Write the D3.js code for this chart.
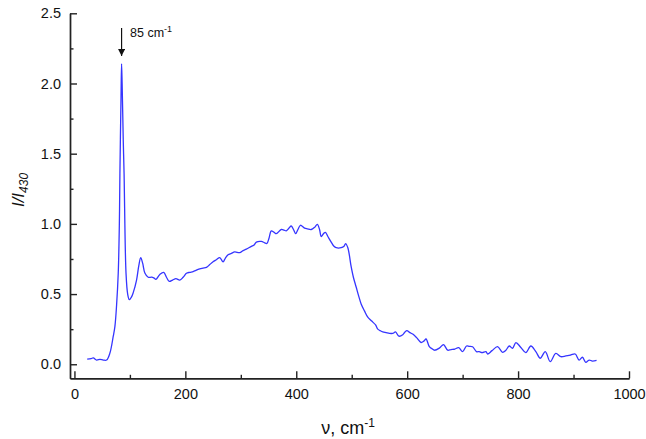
<!DOCTYPE html>
<html>
<head>
<meta charset="UTF-8">
<script src="https://d3js.org/d3.v7.min.js"></script>
<style>
  body { margin: 0; background: #fff; }
  svg { display: block; font-family: "Liberation Sans", Arial, sans-serif; }
  .axis path, .axis line { stroke: #222; stroke-width: 1.4; }
  .axis text { font-size: 14.5px; fill: #111; }
</style>
</head>
<body>
<svg></svg>
<script>
// wavenumber (cm-1) and relative intensity I/I430
let nu = [23, 30, 34, 40, 46, 52, 58, 64, 70, 73, 76, 79, 81, 82, 84, 85, 86, 88, 89.5, 93,
  96, 99, 103, 106, 112, 116, 119.5, 123, 127, 133, 139, 143, 147, 154, 161, 166, 171, 177, 183, 190,
  196, 202, 208, 214, 220, 226, 232, 238, 244, 250, 256, 262, 268, 272, 277, 283, 289, 298, 304, 310,
  319, 324, 328, 337, 343, 347, 351, 355, 360, 364, 373, 378, 382, 387, 391, 395, 399, 403, 407.5, 415,
  420, 427, 433, 438, 442, 445, 449, 452.5, 457, 463, 468, 472, 481, 486, 489, 493, 499, 503, 508, 513,
  517, 523, 529, 534, 538, 543, 547, 551, 556, 562, 568, 574, 579, 585, 592, 596, 599.5, 605, 610, 617,
  625, 630, 634, 640, 645, 649, 658, 665.5, 673, 679, 685, 693, 700, 707, 712, 718, 725, 730, 735, 742,
  745, 753, 763, 772, 778, 784, 790, 796, 805, 814, 823, 832, 840, 849, 858, 868, 877, 886, 895, 903,
  910, 916, 922, 928, 934, 941.5];
let intensity = [0.036, 0.04, 0.045, 0.03, 0.035, 0.03, 0.03, 0.08, 0.20, 0.27, 0.42, 0.65, 1.0, 1.36, 1.9, 2.14, 2.0, 1.6, 1.36, 0.65,
  0.50, 0.46, 0.48, 0.51, 0.60, 0.70, 0.76, 0.72, 0.65, 0.62, 0.62, 0.615, 0.605, 0.64, 0.655, 0.62, 0.59, 0.60, 0.61, 0.60,
  0.62, 0.648, 0.655, 0.66, 0.67, 0.68, 0.685, 0.69, 0.71, 0.73, 0.745, 0.76, 0.73, 0.755, 0.78, 0.79, 0.80, 0.795, 0.81, 0.82,
  0.84, 0.85, 0.87, 0.875, 0.865, 0.86, 0.90, 0.95, 0.94, 0.93, 0.96, 0.955, 0.95, 0.97, 0.985, 0.96, 0.93, 0.96, 0.99, 0.97,
  0.965, 0.96, 0.975, 0.997, 0.96, 0.91, 0.93, 0.94, 0.91, 0.87, 0.84, 0.83, 0.83, 0.84, 0.86, 0.83, 0.695, 0.62, 0.55, 0.48,
  0.43, 0.38, 0.335, 0.315, 0.30, 0.28, 0.25, 0.24, 0.23, 0.225, 0.22, 0.22, 0.23, 0.20, 0.21, 0.23, 0.24, 0.225, 0.215, 0.19,
  0.155, 0.165, 0.18, 0.125, 0.11, 0.10, 0.115, 0.14, 0.10, 0.105, 0.107, 0.118, 0.09, 0.13, 0.128, 0.125, 0.09, 0.09, 0.083, 0.09,
  0.073, 0.097, 0.125, 0.085, 0.10, 0.13, 0.114, 0.154, 0.12, 0.083, 0.13, 0.09, 0.043, 0.09, 0.019, 0.078, 0.054, 0.059, 0.066, 0.073,
  0.03, 0.05, 0.014, 0.03, 0.023, 0.028];

let xMajor = [0, 200, 400, 600, 800, 1000];
let xMinor = [100, 300, 500, 700, 900];
let yMajor = [0.0, 0.5, 1.0, 1.5, 2.0, 2.5];
let yMinor = [0.25, 0.75, 1.25, 1.75, 2.25];
let peakNu = 85;

let width = 646, height = 439;
let svg = d3.select("svg").attr("width", width).attr("height", height);

let x = d3.scaleLinear().domain([-8, 1000]).range([70, 629]);
let y = d3.scaleLinear().domain([-0.1, 2.5]).range([378.3, 13.3]);

// minor ticks first
svg.append("g").attr("class", "axis")
  .attr("transform", "translate(0," + y(-0.1) + ")")
  .call(d3.axisBottom(x).tickValues(xMinor).tickSize(-3.5).tickSizeOuter(0).tickFormat(""));
svg.append("g").attr("class", "axis")
  .attr("transform", "translate(" + x(-8) + ",0)")
  .call(d3.axisLeft(y).tickValues(yMinor).tickSize(-3.5).tickSizeOuter(0).tickFormat(""));

// major ticks
svg.append("g").attr("class", "axis")
  .attr("transform", "translate(0," + y(-0.1) + ")")
  .call(d3.axisBottom(x).tickValues(xMajor).tickSize(-7).tickSizeOuter(0).tickPadding(10).tickFormat(d3.format("d")));
svg.append("g").attr("class", "axis")
  .attr("transform", "translate(" + x(-8) + ",0)")
  .call(d3.axisLeft(y).tickValues(yMajor).tickSize(-7).tickSizeOuter(0).tickPadding(9).tickFormat(d3.format(".1f")));

// spectrum
let pts = nu.map((v, i) => [v, intensity[i]]);
svg.append("path")
  .datum(pts)
  .attr("fill", "none")
  .attr("stroke", "#3535ff")
  .attr("stroke-width", 1.3)
  .attr("d", d3.line().x(d => x(d[0])).y(d => y(d[1])).curve(d3.curveCatmullRom));

// arrow annotation
svg.append("defs").append("marker")
  .attr("id", "arr").attr("viewBox", "0 0 10 10").attr("refX", 10).attr("refY", 5)
  .attr("markerWidth", 7).attr("markerHeight", 7).attr("markerUnits", "userSpaceOnUse")
  .attr("orient", "auto")
  .append("path").attr("d", "M0,0 L10,5 L0,10 z").attr("fill", "#111");
svg.append("line")
  .attr("x1", x(peakNu)).attr("x2", x(peakNu))
  .attr("y1", 28).attr("y2", 56)
  .attr("stroke", "#111").attr("stroke-width", 1.2)
  .attr("marker-end", "url(#arr)");
let ann = svg.append("text").attr("x", 130).attr("y", 37).attr("font-size", 12.5).attr("fill", "#111");
ann.append("tspan").text("85 cm");
ann.append("tspan").attr("dy", -5).attr("font-size", 9).text("-1");

// axis titles
let xt = svg.append("text").attr("x", 348).attr("y", 434).attr("text-anchor", "middle")
  .attr("font-size", 18).attr("fill", "#111");
xt.append("tspan").text("ν, cm");
xt.append("tspan").attr("dy", -7).attr("font-size", 12).text("-1");

let yt = svg.append("text").attr("transform", "translate(24,190) rotate(-90)")
  .attr("text-anchor", "middle").attr("font-size", 17).attr("font-style", "italic").attr("fill", "#111");
yt.append("tspan").text("I/I");
yt.append("tspan").attr("dy", 4).attr("font-size", 12).text("430");
</script>
</body>
</html>
